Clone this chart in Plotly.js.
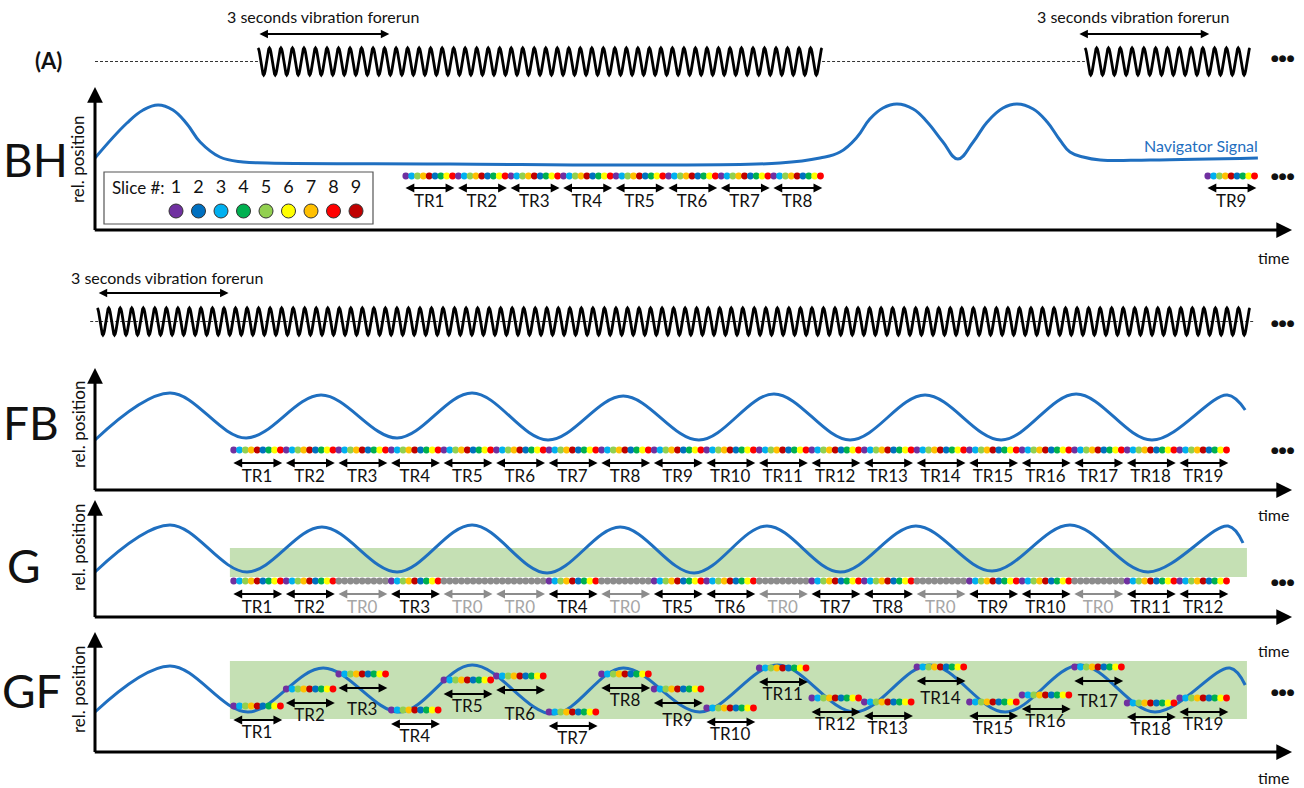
<!DOCTYPE html>
<html><head><meta charset="utf-8">
<script src="https://cdn.plot.ly/plotly-3.0.1.min.js"></script>
<style>html,body{margin:0;padding:0;background:#fff;overflow:hidden}</style>
</head><body><div id="chart" style="width:1304px;height:788px"></div>
<script>
// ================= DATA (time in s, rel. position in a.u. above each panel's time axis) =================
const sliceNumbers = [1,2,3,4,5,6,7,8,9];
const sliceColors = ['#7030A0','#0070C0','#00B0F0','#00B050','#92D050','#FFFF00','#FFC000','#FF0000','#C00000'];
const acquisitionOrder = [1,3,5,7,9,2,4,6,8];
const trDuration = 1.2;
const forerunDuration = 3;

// vibration (top row: BH, second row: FB/G/GF)
const vibTopStart = [3.72, 22.60];
const vibTopEnd = [16.60, 26.37];
const vibTopCycles = [49, 14];
const vibMainStart = [0.05];
const vibMainEnd = [26.37];
const vibMainCycles = [100];
const forerunTopStart = [3.72, 22.44];
const forerunMainStart = [0.05];

// BH navigator
const bhNavT   = [0.00, 0.73, 1.10, 1.44, 1.78, 2.10, 2.40, 2.85, 3.38, 3.93, 8.11, 12.44, 15.64, 16.55, 17.01, 17.40, 17.69, 17.99, 18.31, 18.68, 19.00, 19.36, 19.70, 20.05, 20.37, 20.73, 21.05, 21.42, 21.74, 22.03, 22.26, 22.56, 22.95, 24.09, 26.55];
const bhNavPos = [72, 107, 120, 125, 120, 106, 88, 73, 68, 67, 66, 65, 67, 72, 78, 93, 111, 122, 126, 121, 108, 88, 71, 88, 108, 122, 126, 121, 108, 90, 78, 73, 70, 70, 72];
const bhTrLabels = ['TR1','TR2','TR3','TR4','TR5','TR6','TR7','TR8','TR9'];
const bhTrStart  = [7.03, 8.23, 9.43, 10.63, 11.83, 13.03, 14.23, 15.43, 25.34];

// FB navigator
const fbNavT   = [0, 1.71, 3.45, 5.16, 6.90, 8.61, 10.34, 12.06, 13.79, 15.50, 17.24, 18.95, 20.69, 22.40, 24.13, 25.85, 26.26];
const fbNavPos = [50, 97, 52, 95, 52, 97, 50, 94, 50, 96, 50, 95, 50, 96, 50, 95, 80];
const slotStart = [3.10, 4.30, 5.50, 6.70, 7.90, 9.10, 10.30, 11.50, 12.70, 13.90, 15.10, 16.30, 17.50, 18.70, 19.90, 21.10, 22.30, 23.50, 24.70];
const fbTrLabels = ['TR1','TR2','TR3','TR4','TR5','TR6','TR7','TR8','TR9','TR10','TR11','TR12','TR13','TR14','TR15','TR16','TR17','TR18','TR19'];

// G navigator (gated)
const gNavT   = [0, 1.71, 3.47, 5.18, 6.90, 8.61, 10.32, 11.99, 13.68, 15.34, 17.01, 18.74, 20.48, 22.26, 24.04, 25.87, 26.21];
const gNavPos = [45, 92, 45, 90, 45, 92, 44, 90, 44, 91, 45, 91, 46, 92, 45, 91, 74];
const gTrLabels = ['TR1','TR2','TR0','TR3','TR0','TR0','TR4','TR0','TR5','TR6','TR0','TR7','TR8','TR0','TR9','TR10','TR0','TR11','TR12'];
const gGateLow = 40, gGateHigh = 69;

// GF navigator (gated + followed)
const gfNavT   = [0, 1.71, 3.49, 5.21, 6.96, 8.61, 10.46, 12.06, 13.81, 15.59, 17.35, 19.06, 20.78, 22.49, 24.20, 25.91, 26.26];
const gfNavPos = [40, 86, 40, 84, 40, 87, 38, 84, 40, 87, 40, 87, 40, 87, 40, 84, 67];
const gfTrLabels = fbTrLabels;
const gfSlicePos = [46, 63, 78, 42, 72, 76, 40, 78, 63, 44, 84, 54, 50, 85, 50, 57, 85, 49, 54];
const gfGateLow = 33, gfGateHigh = 91;

// ================= LAYOUT HELPERS =================
const W = 1304, H = 788;
const FONT = 'Lato, "Open Sans", "Noto Sans", sans-serif';
const BLUE = '#1f6fc0';
const GRAY = '#8c8c8c';
const GRAYTXT = '#a6a6a6';
const px = v => v / W;
const py = v => 1 - v / H;
const xEnd = 27.33;   // tip of time axes
const traces = [];
const annotations = [];
const shapes = [];

function vibTrace(starts, ends, cycles, center, amp, yref) {
  const x = [], y = [];
  const per = 16;
  starts.forEach((s, k) => {
    const n = cycles[k] * per;
    for (let i = 0; i <= n; i++) {
      x.push(s + (ends[k] - s) * i / n);
      y.push(center + amp * Math.cos(2 * Math.PI * i / per));
    }
    x.push(null); y.push(null);
  });
  traces.push({type:'scatter', mode:'lines', x, y, yaxis: yref, line:{color:'#000', width:2.8}, hoverinfo:'skip'});
}
function dashed(x, y, yref) {
  traces.push({type:'scatter', mode:'lines', x, y, yaxis: yref, line:{color:'#333', width:1, dash:'3px,2px'}, hoverinfo:'skip'});
}
function dbl(t0, t1, v, yref, color, width, size) {
  annotations.push({x: t1, y: v, ax: t0, ay: v, xref:'x', yref: yref, axref:'x', ayref: yref,
    showarrow:true, text:'', arrowside:'end+start', arrowhead:2, startarrowhead:2,
    arrowsize:size, startarrowsize:size, arrowwidth:width, arrowcolor:color});
}
function axisArrow(x0, y0, x1, y1, yref) {
  annotations.push({x: x1, y: y1, ax: x0, ay: y0, xref:'x', yref: yref, axref:'x', ayref: yref,
    showarrow:true, text:'', arrowhead:2, arrowsize:1.05, arrowwidth:3, arrowcolor:'#000'});
}
function label(text, x, y, size, opts) {
  annotations.push(Object.assign({x: px(x), y: py(y), xref:'paper', yref:'paper', showarrow:false, text,
    font:{family:FONT, size, color:'#111'}, xanchor:'center', yanchor:'middle'}, opts || {}));
}
function navTrace(t, v, yref, smooth) {
  traces.push({type:'scatter', mode:'lines', x:t, y:v, yaxis:yref, line:{color:BLUE, width:3, shape:'spline', smoothing:smooth || 1}, hoverinfo:'skip'});
}
function dotsTrace(starts, levels, grayFlags, yref) {
  const x = [], y = [], c = [];
  starts.forEach((s, i) => {
    for (let j = 0; j < 9; j++) {
      x.push(s + (j + 0.5) * trDuration / 9);
      y.push(levels[i]);
      c.push(grayFlags && grayFlags[i] ? GRAY : sliceColors[acquisitionOrder[j] - 1]);
    }
  });
  traces.push({type:'scatter', mode:'markers', x, y, yaxis:yref, cliponaxis:false,
    marker:{size:6.8, color:c, line:{width:0}}, hoverinfo:'skip'});
}
function trLabels(starts, labels, levels, colors, yref) {
  traces.push({type:'scatter', mode:'text', x: starts.map(s => s + trDuration / 2), y: levels,
    text: labels, yaxis: yref, cliponaxis:false, textposition:'middle center',
    textfont:{family:FONT, size:17, color: colors}, hoverinfo:'skip'});
}
const gap = 0.025;

// ================= TOP ROW + BH =================
dashed([0, vibTopStart[0], null, vibTopEnd[0], vibTopStart[1]], [168.5, 168.5, null, 168.5, 168.5], 'y');
vibTrace(vibTopStart, vibTopEnd, vibTopCycles, 168.5, 13.5, 'y');
forerunTopStart.forEach(s => dbl(s, s + forerunDuration, 196, 'y', '#000', 2, 0.85));
navTrace(bhNavT, bhNavPos, 'y', 1.2);
dotsTrace(bhTrStart, bhTrStart.map(() => 54), null, 'y');
bhTrStart.forEach(s => dbl(s + gap, s + trDuration - gap, 42, 'y', '#000', 2.2, 0.8));
trLabels(bhTrStart, bhTrLabels, bhTrStart.map(() => 27), '#111', 'y');
axisArrow(0, -1.5, 0, 143, 'y');
axisArrow(-0.04, 0, xEnd, 0, 'y');

// legend box
shapes.push({type:'rect', xref:'paper', yref:'paper', x0:px(104), x1:px(373), y0:py(224), y1:py(172), line:{color:'#555', width:1.2}, fillcolor:'rgba(255,255,255,0)'});
label('Slice #:', 138, 188, 17);
{
  const lx = sliceNumbers.map((n, i) => (176 + i * 22.5 - 95) / 43.8);
  traces.push({type:'scatter', mode:'markers', x: lx, y: sliceNumbers.map(() => 19), yaxis:'y',
    marker:{size:14, color: sliceColors, line:{color:'#333', width:1}}, hoverinfo:'skip'});
  traces.push({type:'scatter', mode:'text', x: lx, y: sliceNumbers.map(() => 42), yaxis:'y',
    text: sliceNumbers.map(String), textfont:{family:FONT, size:18, color:'#111'}, hoverinfo:'skip'});
}

// ================= SECOND ROW + FB =================
dashed([-0.11, 26.48], [168.5, 168.5], 'y2');
vibTrace(vibMainStart, vibMainEnd, vibMainCycles, 168.5, 13.5, 'y2');
forerunMainStart.forEach(s => dbl(s, s + forerunDuration, 197, 'y2', '#000', 2, 0.85));
navTrace(fbNavT, fbNavPos, 'y2');
dotsTrace(slotStart, slotStart.map(() => 40), null, 'y2');
slotStart.forEach(s => dbl(s + gap, s + trDuration - gap, 27, 'y2', '#000', 2.2, 0.8));
trLabels(slotStart, fbTrLabels, slotStart.map(() => 12), '#111', 'y2');
axisArrow(0, -1.5, 0, 122, 'y2');
axisArrow(-0.04, 0, xEnd, 0, 'y2');

// ================= G =================
shapes.push({type:'rect', xref:'x', yref:'y3', x0:3.08, x1:26.30, y0:gGateLow, y1:gGateHigh, line:{width:0}, fillcolor:'#c5e0b4', layer:'below'});
navTrace(gNavT, gNavPos, 'y3');
const gGray = gTrLabels.map(l => l === 'TR0');
dotsTrace(slotStart, slotStart.map(() => 36), gGray, 'y3');
slotStart.forEach((s, i) => dbl(s + gap, s + trDuration - gap, 23, 'y3', gGray[i] ? GRAY : '#000', 2.2, 0.8));
trLabels(slotStart, gTrLabels, slotStart.map(() => 8), gGray.map(g => g ? GRAYTXT : '#111'), 'y3');
axisArrow(0, -1.5, 0, 117, 'y3');
axisArrow(-0.04, 0, xEnd, 0, 'y3');

// ================= GF =================
shapes.push({type:'rect', xref:'x', yref:'y4', x0:3.08, x1:26.30, y0:gfGateLow, y1:gfGateHigh, line:{width:0}, fillcolor:'#c5e0b4', layer:'below'});
navTrace(gfNavT, gfNavPos, 'y4');
dotsTrace(slotStart, gfSlicePos, null, 'y4');
slotStart.forEach((s, i) => dbl(s + gap, s + trDuration - gap, gfSlicePos[i] - 14, 'y4', '#000', 2.2, 0.8));
const gfLabelNudge = [0, 0, -9, 0, 0, -12, 0, 0, -5, 0, 0, 0, 0, -5, 0, 0, -8, 0, 0];
trLabels(slotStart, gfTrLabels, gfSlicePos.map((p, i) => p - 28 + gfLabelNudge[i]), '#111', 'y4');
axisArrow(0, -1.5, 0, 120, 'y4');
axisArrow(-0.04, 0, xEnd, 0, 'y4');

// ================= TEXT =================
label('<b>(A)</b>', 48, 60, 22, {font:{family:FONT, size:22, color:'#111', weight:'bold'}});
label('3 seconds vibration forerun', 323, 17, 16);
label('3 seconds vibration forerun', 1133, 17, 16);
label('3 seconds vibration forerun', 167, 277, 16);
label('BH', 35, 160, 46);
label('FB', 31, 422, 46);
label('G', 24, 565, 46);
label('GF', 32, 690, 46);
[160, 425, 548, 690].forEach(y => label('rel. position', 78, y, 17, {textangle:-90}));
[257, 514, 650, 777].forEach(y => label('time', 1273, y, 16));
label('Navigator Signal', 1201, 145, 16, {font:{family:FONT, size:16, color:BLUE}});
[58, 176, 323, 450, 582, 692].forEach(y => label('●●●', 1283, y, 9, {font:{family:'DejaVu Sans', size:9, color:'#111'}}));

// ================= FIGURE =================
const yAx = (dom, rng) => ({domain: dom, range: rng, visible:false, fixedrange:true, anchor:'x'});
const layout = {
  width: W, height: H, autosize:false,
  margin:{l:0, r:0, t:0, b:0, pad:0},
  paper_bgcolor:'#fff', plot_bgcolor:'rgba(0,0,0,0)',
  showlegend:false, hovermode:false,
  font:{family:FONT, color:'#111'},
  xaxis:{domain:[0,1], range:[-95/43.8, 1209/43.8], visible:false, fixedrange:true, anchor:'y4'},
  yaxis:  yAx([(H-250)/H, 1], [-20, 230]),
  yaxis2: yAx([(H-500)/H, (H-250)/H], [-10, 240]),
  yaxis3: yAx([(H-625)/H, (H-500)/H], [-8, 117]),
  yaxis4: yAx([0, (H-625)/H], [-36, 127]),
  shapes, annotations
};
Plotly.newPlot('chart', traces, layout, {staticPlot:true, displayModeBar:false});
</script>
</body></html>
